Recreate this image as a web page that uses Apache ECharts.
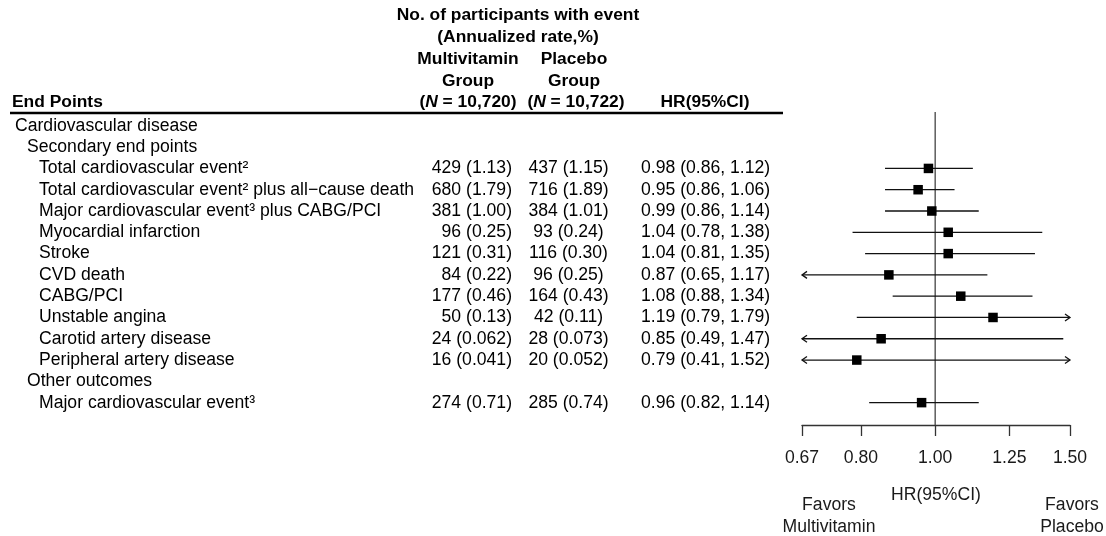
<!DOCTYPE html>
<html>
<head>
<meta charset="utf-8">
<script src="https://cdn.jsdelivr.net/npm/echarts@6/dist/echarts.min.js"></script>
<style>
  html, body { margin: 0; padding: 0; background: #fff; }
  #chart { width: 1106px; height: 536px; }
</style>
</head>
<body>
<div id="chart"></div>
<script>
// End points of the cardiovascular analysis, in display order
const endPoints = [
  'Cardiovascular disease',
  'Secondary end points',
  'Total cardiovascular event²',
  'Total cardiovascular event² plus all\u2212cause death',
  'Major cardiovascular event³ plus CABG/PCI',
  'Myocardial infarction',
  'Stroke',
  'CVD death',
  'CABG/PCI',
  'Unstable angina',
  'Carotid artery disease',
  'Peripheral artery disease',
  'Other outcomes',
  'Major cardiovascular event³'
];
// indentation level of each row (0 = section, 1 = subsection, 2 = end point)
const rowLevels = [0, 1, 2, 2, 2, 2, 2, 2, 2, 2, 2, 2, 1, 2];

// Participants with event (annualized rate, %)
const mvEvents = [null, null, 429, 680, 381, 96, 121, 84, 177, 50, 24, 16, null, 274];
const mvRates  = [null, null, '1.13', '1.79', '1.00', '0.25', '0.31', '0.22', '0.46', '0.13', '0.062', '0.041', null, '0.71'];
const plEvents = [null, null, 437, 716, 384, 93, 116, 96, 164, 42, 28, 20, null, 285];
const plRates  = [null, null, '1.15', '1.89', '1.01', '0.24', '0.30', '0.25', '0.43', '0.11', '0.073', '0.052', null, '0.74'];

// Hazard ratios with 95% confidence intervals
const hazardRatio = [null, null, 0.98, 0.95, 0.99, 1.04, 1.04, 0.87, 1.08, 1.19, 0.85, 0.79, null, 0.96];
const ciLower     = [null, null, 0.86, 0.86, 0.86, 0.78, 0.81, 0.65, 0.88, 0.79, 0.49, 0.41, null, 0.82];
const ciUpper     = [null, null, 1.12, 1.06, 1.14, 1.38, 1.35, 1.17, 1.34, 1.79, 1.47, 1.52, null, 1.14];

// Hazard-ratio axis
const hrTicks = [0.67, 0.80, 1.00, 1.25, 1.50];
const hrMin = 0.67;
const hrMax = 1.50;

const FONT = '"Liberation Sans", Arial, Helvetica, sans-serif';
const FS = 17.6;      // body text
const FS_HEAD = 17.4; // bold header text
const ROW_MIN = -0.65, ROW_MAX = 14.05;

const tableRows = endPoints.map((_, i) => i);
const forestRows = [];
hazardRatio.forEach((v, i) => {
  if (v != null) forestRows.push([v, ciLower[i], ciUpper[i], i]);
});

function txt(text, x, y, align, bold, extra) {
  return {
    type: 'text',
    style: Object.assign({
      text: text, x: x, y: y,
      align: align, verticalAlign: 'middle',
      fontFamily: FONT, fontSize: bold ? FS_HEAD : FS,
      fontWeight: bold ? 'bold' : 'normal',
      fill: '#000'
    }, extra || {})
  };
}

const italicN = { i: { fontStyle: 'italic', fontWeight: 'bold', fontFamily: FONT, fontSize: FS_HEAD } };

const chart = echarts.init(document.getElementById('chart'), null, { renderer: 'canvas' });

const headerGraphics = [
  txt('No. of participants with event', 518, 15, 'center', true),
  txt('(Annualized rate,%)', 518, 37, 'center', true),
  txt('Multivitamin', 468, 59, 'center', true),
  txt('Placebo', 574, 59, 'center', true),
  txt('Group', 468, 81, 'center', true),
  txt('Group', 574, 81, 'center', true),
  txt('({i|N} = 10,720)', 468, 102, 'center', true, { rich: italicN }),
  txt('({i|N} = 10,722)', 576, 102, 'center', true, { rich: italicN }),
  txt('HR(95%CI)', 705, 102, 'center', true),
  txt('End Points', 12, 102, 'left', true),
  {
    type: 'line',
    shape: { x1: 10, y1: 113, x2: 783, y2: 113 },
    style: { stroke: '#000', lineWidth: 2.5 }
  },
  txt('Favors\nMultivitamin', 829, 516, 'center', false, { lineHeight: 22, fill: '#1a1a1a' }),
  txt('Favors\nPlacebo', 1072, 516, 'center', false, { lineHeight: 22, fill: '#1a1a1a' })
];

const option = {
  animation: false,
  backgroundColor: '#fff',
  graphic: headerGraphics,
  grid: [
    { left: 0, width: 1106, top: 112, height: 313, containLabel: false },
    { left: 802, width: 268, top: 112, height: 313, containLabel: false }
  ],
  xAxis: [
    { gridIndex: 0, type: 'value', min: 0, max: 1106, show: false },
    {
      gridIndex: 1, type: 'log', logBase: 10, min: hrMin, max: hrMax,
      position: 'bottom',
      axisLine: { show: true, onZero: false, lineStyle: { color: '#333', width: 1.3 } },
      axisTick: { show: true, inside: false, length: 11, customValues: hrTicks,
                  lineStyle: { color: '#333', width: 1.3 } },
      axisLabel: { show: true, customValues: hrTicks, margin: 24,
                   formatter: v => Number(v).toFixed(2),
                   fontFamily: FONT, fontSize: FS, color: '#1a1a1a' },
      splitLine: { show: false },
      minorTick: { show: false },
      name: 'HR(95%CI)', nameLocation: 'middle', nameGap: 61,
      nameTextStyle: { fontFamily: FONT, fontSize: FS, color: '#1a1a1a' }
    }
  ],
  yAxis: [
    { gridIndex: 0, type: 'value', min: ROW_MIN, max: ROW_MAX, inverse: true, show: false },
    { gridIndex: 1, type: 'value', min: ROW_MIN, max: ROW_MAX, inverse: true, show: false }
  ],
  series: [
    {
      // Table body: end point names, event counts and hazard ratios
      type: 'custom',
      xAxisIndex: 0, yAxisIndex: 0,
      data: tableRows,
      clip: false,
      silent: true,
      renderItem: function (params, api) {
        const i = params.dataIndex;
        const y = api.coord([0, i])[1];
        const children = [];
        const indentX = [15, 27, 39][rowLevels[i]];
        children.push(txt(endPoints[i], indentX, y, 'left', false));
        if (mvEvents[i] != null) {
          children.push(txt(mvEvents[i] + ' (' + mvRates[i] + ')', 512, y, 'right', false));
          children.push(txt(plEvents[i] + ' (' + plRates[i] + ')', 568.5, y, 'center', false));
          children.push(txt(hazardRatio[i].toFixed(2) + ' (' + ciLower[i].toFixed(2) + ', ' +
                            ciUpper[i].toFixed(2) + ')', 641, y, 'left', false));
        }
        return { type: 'group', children: children };
      }
    },
    {
      // Reference line at HR = 1
      type: 'custom',
      xAxisIndex: 1, yAxisIndex: 1,
      data: [[1]],
      clip: false,
      silent: true,
      encode: { x: 0 },
      renderItem: function (params, api) {
        const top = api.coord([1, ROW_MIN]);
        const bottom = api.coord([1, ROW_MAX]);
        return {
          type: 'line',
          shape: { x1: top[0], y1: top[1], x2: bottom[0], y2: bottom[1] },
          style: { stroke: '#444', lineWidth: 1.3 }
        };
      }
    },
    {
      // Confidence intervals and point estimates
      type: 'custom',
      xAxisIndex: 1, yAxisIndex: 1,
      data: forestRows,
      encode: { x: [0, 1, 2], y: 3 },
      clip: false,
      silent: true,
      renderItem: function (params, api) {
        const est = api.value(0), lo = api.value(1), hi = api.value(2), row = api.value(3);
        const loC = Math.max(lo, hrMin), hiC = Math.min(hi, hrMax);
        const p1 = api.coord([loC, row]);
        const p2 = api.coord([hiC, row]);
        const pc = api.coord([est, row]);
        const stroke = { stroke: '#111', lineWidth: 1.3, fill: null };
        const children = [{
          type: 'line',
          shape: { x1: p1[0], y1: p1[1], x2: p2[0], y2: p2[1] },
          style: stroke
        }];
        if (lo < hrMin) {
          children.push({
            type: 'polyline',
            shape: { points: [[p1[0] + 5, p1[1] - 3.5], [p1[0], p1[1]], [p1[0] + 5, p1[1] + 3.5]] },
            style: stroke
          });
        }
        if (hi > hrMax) {
          children.push({
            type: 'polyline',
            shape: { points: [[p2[0] - 5, p2[1] - 3.5], [p2[0], p2[1]], [p2[0] - 5, p2[1] + 3.5]] },
            style: stroke
          });
        }
        children.push({
          type: 'rect',
          shape: { x: pc[0] - 4.75, y: pc[1] - 4.75, width: 9.5, height: 9.5 },
          style: { fill: '#000' }
        });
        return { type: 'group', children: children };
      }
    }
  ]
};

chart.setOption(option);
</script>
</body>
</html>
